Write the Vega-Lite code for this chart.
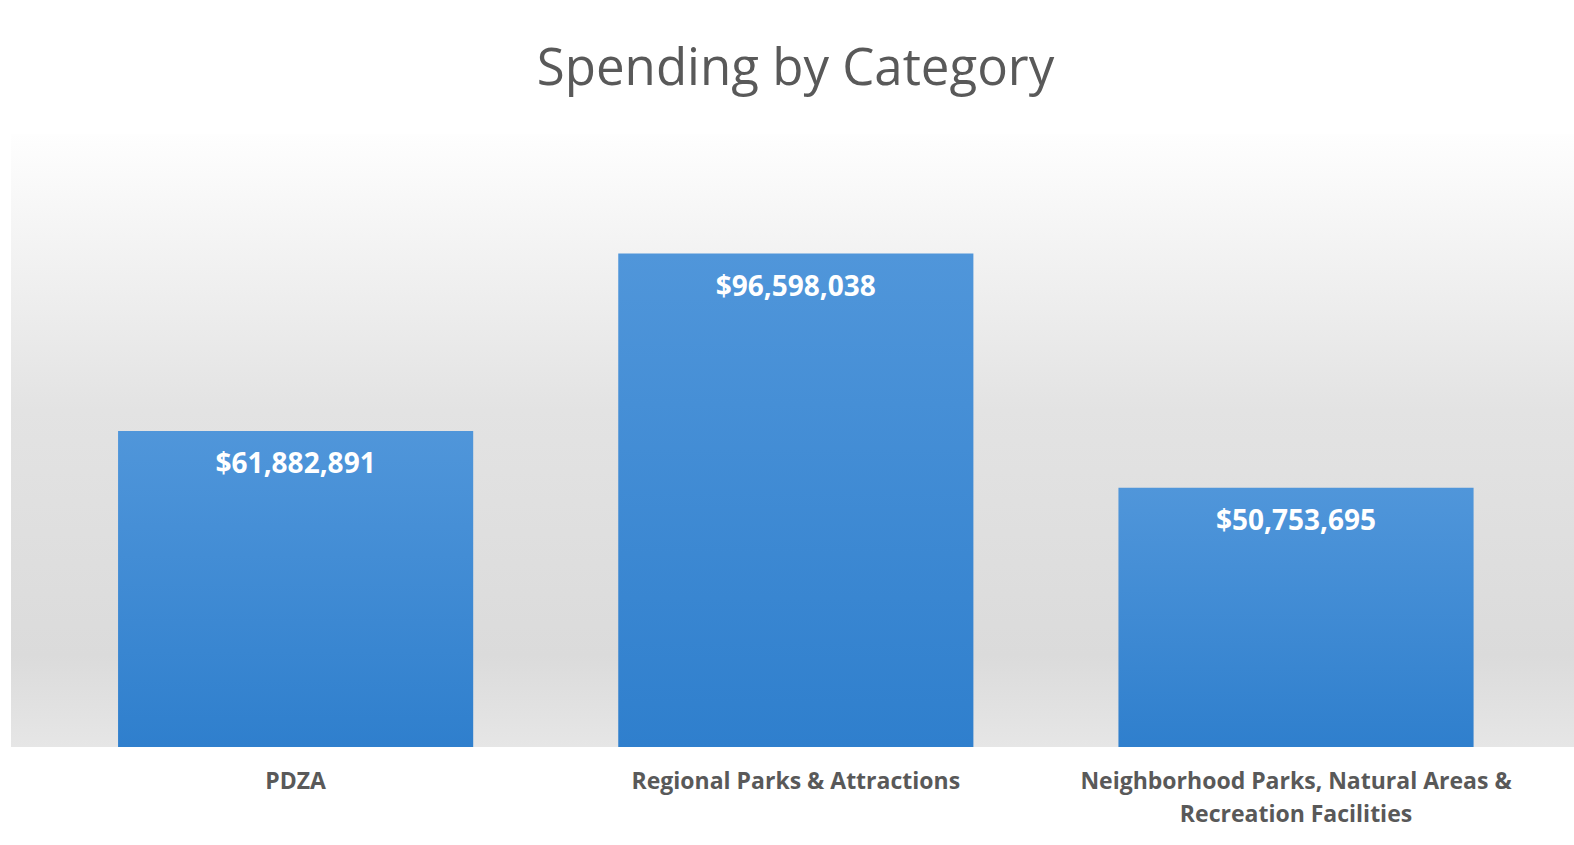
{
  "$schema": "https://vega.github.io/schema/vega-lite/v6.json",
  "width": 1563,
  "height": 613,
  "autosize": {"type": "none"},
  "padding": {"left": 11, "top": 134, "right": 0, "bottom": 98},
  "background": "white",
  "config": {"view": {"stroke": null}},
  "title": {
    "text": "Spending by Category",
    "font": "Open Sans",
    "fontSize": 51,
    "fontWeight": "normal",
    "color": "#595959",
    "anchor": "middle",
    "offset": 38,
    "dx": 3
  },
  "data": {
    "values": [
      {"category": "PDZA", "amount": 61882891},
      {"category": "Regional Parks & Attractions", "amount": 96598038},
      {"category": "Neighborhood Parks, Natural Areas & Recreation Facilities", "amount": 50753695}
    ]
  },
  "encoding": {
    "x": {
      "field": "category",
      "type": "nominal",
      "sort": null,
      "scale": {"paddingInner": 0.29, "paddingOuter": 0.2074, "align": 0.516},
      "axis": {
        "title": null,
        "domain": false,
        "ticks": false,
        "labelAngle": 0,
        "labelFont": "Open Sans",
        "labelFontSize": 23,
        "labelFontWeight": "bold",
        "labelColor": "#595959",
        "labelPadding": 23,
        "labelLineHeight": 33,
        "labelLimit": 0,
        "labelExpr": "datum.value == 'Neighborhood Parks, Natural Areas & Recreation Facilities' ? ['Neighborhood Parks, Natural Areas &', 'Recreation Facilities'] : datum.value"
      }
    }
  },
  "layer": [
    {
      "mark": {
        "type": "rect",
        "color": {
          "gradient": "linear",
          "x1": 0, "y1": 0, "x2": 0, "y2": 1,
          "stops": [
            {"offset": 0, "color": "#fefefe"},
            {"offset": 0.45, "color": "#e3e3e3"},
            {"offset": 0.85, "color": "#dbdbdb"},
            {"offset": 1, "color": "#e6e6e6"}
          ]
        }
      },
      "encoding": {
        "x": null,
        "y": {"datum": 0, "type": "quantitative", "scale": {"domain": [0, 120000000]}, "axis": null},
        "y2": {"datum": 120000000}
      }
    },
    {
      "mark": {
        "type": "bar",
        "color": {
          "gradient": "linear",
          "x1": 0, "y1": 0, "x2": 0, "y2": 1,
          "stops": [
            {"offset": 0, "color": "#5096da"},
            {"offset": 1, "color": "#2f7fcd"}
          ]
        }
      },
      "encoding": {
        "y": {"field": "amount", "type": "quantitative", "scale": {"domain": [0, 120000000]}, "axis": null}
      }
    },
    {
      "mark": {
        "type": "text",
        "font": "Open Sans",
        "fontSize": 28,
        "fontWeight": "bold",
        "color": "white",
        "baseline": "middle",
        "dy": 34
      },
      "encoding": {
        "y": {"field": "amount", "type": "quantitative", "scale": {"domain": [0, 120000000]}, "axis": null},
        "text": {"field": "amount", "type": "quantitative", "format": "$,.0f"}
      }
    }
  ]
}
